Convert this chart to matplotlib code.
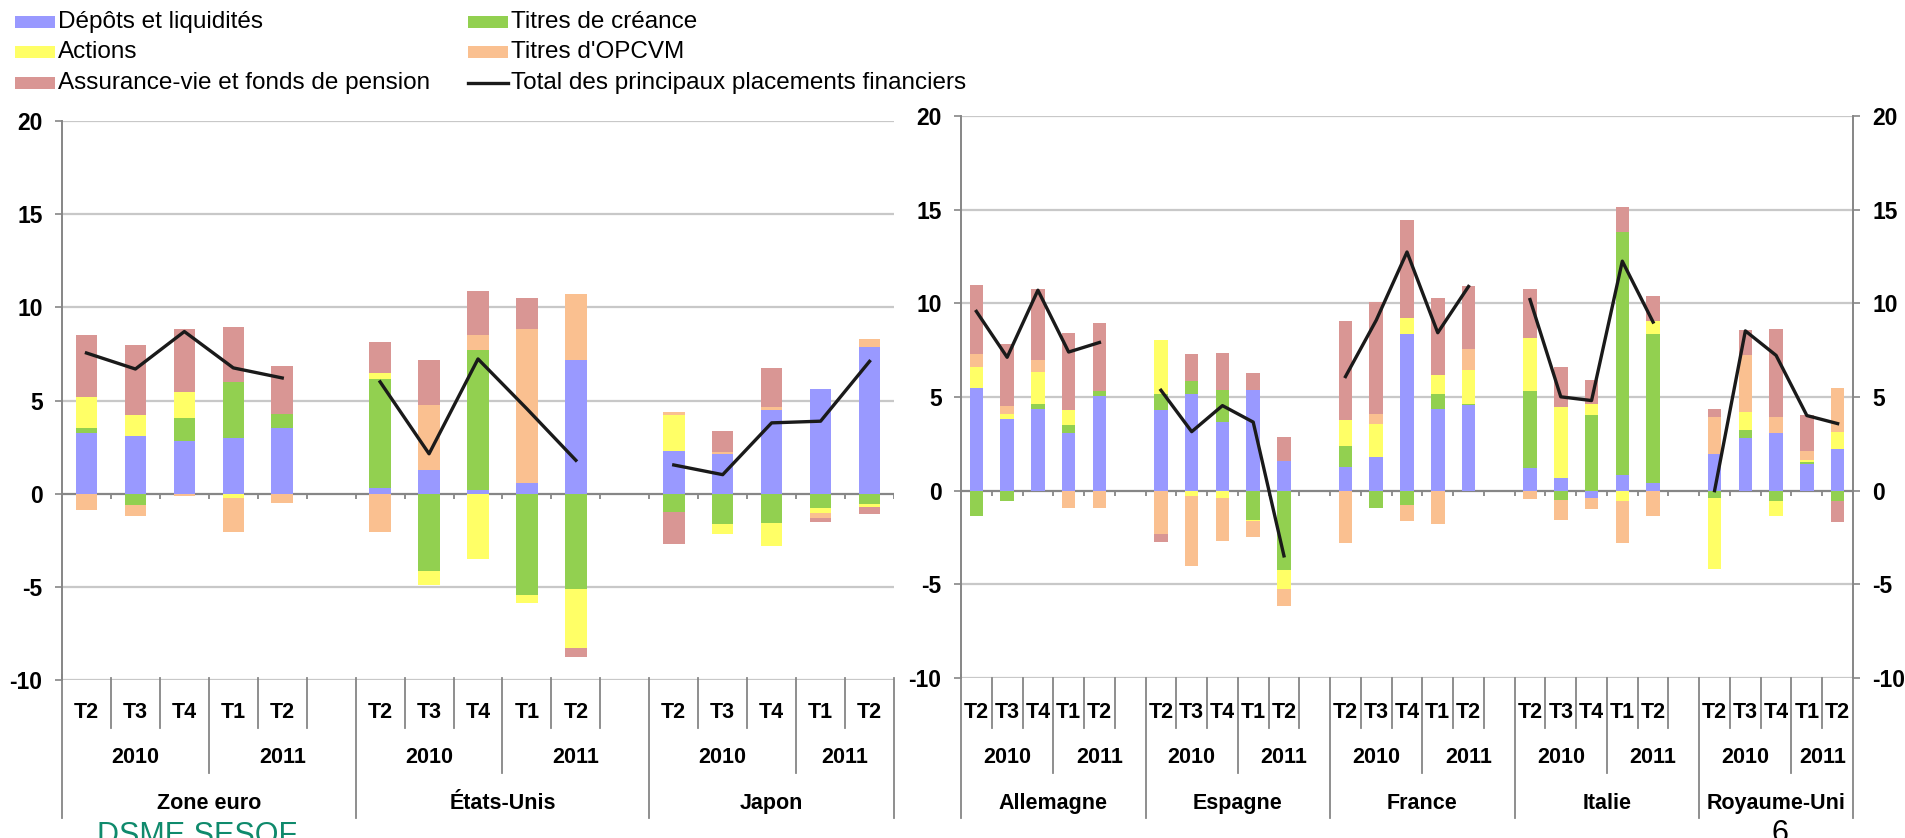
import matplotlib
matplotlib.use('Agg')
import matplotlib.pyplot as plt
from matplotlib.patches import Rectangle
from matplotlib.transforms import blended_transform_factory
import numpy as np

# taux de croissance annuels des placements financiers des ménages (contributions, en points)
quarters = ['T2', 'T3', 'T4', 'T1', 'T2']
years = ['2010', '2011']
countries_left = ['Zone euro', 'États-Unis', 'Japon']
countries_right = ['Allemagne', 'Espagne', 'France', 'Italie', 'Royaume-Uni']

series_names = ['Dépôts et liquidités', 'Titres de créance', 'Actions',
                "Titres d'OPCVM", 'Assurance-vie et fonds de pension']
total_name = 'Total des principaux placements financiers'
colors = ['#9999FF', '#92D050', '#FFFF66', '#FAC090', '#D99694']

depots = {
    'Zone euro': [3.25, 3.09, 2.84, 3.0, 3.54],
    'États-Unis': [0.3, 1.29, 0.2, 0.57, 7.2],
    'Japon': [2.31, 2.14, 4.5, 5.63, 7.89],
    'Allemagne': [5.48, 3.84, 4.36, 3.07, 5.05],
    'Espagne': [4.29, 5.15, 3.66, 5.38, 1.57],
    'France': [1.27, 1.78, 8.34, 4.36, 4.56],
    'Italie': [1.19, 0.65, -0.4, 0.82, 0.39],
    'Royaume-Uni': [1.94, 2.8, 3.07, 1.43, 2.21],
}
creance = {
    'Zone euro': [0.27, -0.6, 1.21, 2.99, 0.76],
    'États-Unis': [5.84, -4.14, 7.53, -5.46, -5.09],
    'Japon': [-1.01, -1.64, -1.55, -0.75, -0.57],
    'Allemagne': [-1.33, -0.55, 0.28, 0.45, 0.27],
    'Espagne': [0.86, 0.68, 1.74, -1.55, -4.21],
    'France': [1.12, -0.9, -0.74, 0.79, 0.08],
    'Italie': [4.13, -0.49, 4.03, 12.98, 7.95],
    'Royaume-Uni': [-0.4, 0.43, -0.57, 0.1, -0.57],
}
actions = {
    'Zone euro': [1.67, 1.13, 1.4, -0.23, 0.0],
    'États-Unis': [0.36, -0.77, -3.52, -0.43, -3.21],
    'Japon': [1.91, -0.5, -1.26, -0.27, -0.16],
    'Allemagne': [1.12, 0.25, 1.7, 0.77, 0.0],
    'Espagne': [2.91, -0.3, -0.4, -0.06, -1.02],
    'France': [1.39, 1.8, 0.86, 1.03, 1.78],
    'Italie': [2.84, 3.81, 0.61, -0.57, 0.7],
    'Royaume-Uni': [-3.79, 0.96, -0.78, 0.09, 0.94],
}
opcvm = {
    'Zone euro': [-0.85, -0.6, -0.1, -1.85, -0.5],
    'États-Unis': [-2.05, 3.46, 0.77, 8.29, 3.5],
    'Japon': [0.14, 0.08, 0.16, -0.27, 0.41],
    'Allemagne': [0.7, 0.45, 0.61, -0.9, -0.9],
    'Espagne': [-2.29, -3.72, -2.31, -0.84, -0.92],
    'France': [-2.8, 0.51, -0.86, -1.76, 1.13],
    'Italie': [-0.47, -1.1, -0.6, -2.23, -1.35],
    'Royaume-Uni': [1.99, 3.03, 0.86, 0.51, 2.31],
}
assurance = {
    'Zone euro': [3.3, 3.76, 3.4, 2.94, 2.53],
    'États-Unis': [1.64, 2.45, 2.36, 1.64, -0.45],
    'Japon': [-1.71, 1.13, 2.09, -0.25, -0.36],
    'Allemagne': [3.7, 3.27, 3.81, 4.14, 3.62],
    'Espagne': [-0.43, 1.45, 1.96, 0.88, 1.29],
    'France': [5.26, 5.97, 5.26, 4.13, 3.37],
    'Italie': [2.6, 2.14, 1.27, 1.33, 1.37],
    'Royaume-Uni': [0.43, 1.37, 4.72, 1.92, -1.1],
}
total = {
    'Zone euro': [7.55, 6.69, 8.7, 6.75, 6.21],
    'États-Unis': [6.0, 2.14, 7.23, 4.55, 1.79],
    'Japon': [1.54, 1.02, 3.8, 3.89, 7.1],
    'Allemagne': [9.57, 7.12, 10.7, 7.4, 7.91],
    'Espagne': [5.36, 3.15, 4.54, 3.66, -3.48],
    'France': [6.09, 9.1, 12.74, 8.43, 10.9],
    'Italie': [10.2, 5.01, 4.81, 12.25, 9.0],
    'Royaume-Uni': [0.0, 8.53, 7.22, 4.01, 3.58],
}
series = [depots, creance, actions, opcvm, assurance]

plt.rcParams['font.family'] = ['Liberation Sans', 'DejaVu Sans']
plt.rcParams['axes.unicode_minus'] = False

W, H = 1906, 838
fig = plt.figure(figsize=(W / 100, H / 100), dpi=100)
GRAY = '#868686'
FS_CAT = 15.5


def fy(py):
    return 1 - py / H


def slots(countries, data):
    # 5 trimestres par pays, un emplacement vide entre deux pays
    out = []
    for i, c in enumerate(countries):
        out += list(data[c])
        if i < len(countries) - 1:
            out.append(np.nan)
    return np.array(out, dtype=float)


def draw_panel(ax, countries, right_labels=False):
    n = len(countries) * 6 - 1
    x = np.arange(n) + 0.5
    pos_base = np.zeros(n)
    neg_base = np.zeros(n)
    for data, col in zip(series, colors):
        v = np.nan_to_num(slots(countries, data))
        pos = np.where(v > 0, v, 0)
        neg = np.where(v < 0, v, 0)
        ax.bar(x, pos, bottom=pos_base, width=0.44, color=col, linewidth=0, zorder=3)
        ax.bar(x, neg, bottom=neg_base, width=0.44, color=col, linewidth=0, zorder=3)
        pos_base += pos
        neg_base += neg
    ax.plot(x, slots(countries, total), color='#1a1a1a', lw=2.4, zorder=4)

    ax.set_xlim(0, n)
    ax.set_ylim(-10, 20)
    ax.set_yticks(range(-10, 21, 5))
    ax.set_xticks([])
    for y in range(-10, 21, 5):
        if y != 0:
            ax.axhline(y, color='#c8c8c8', lw=1.6, zorder=1)
    ax.axhline(0, color=GRAY, lw=1.6, zorder=2)
    ax.vlines(np.arange(1, n + 1), 0, -0.28, color=GRAY, lw=1.3, zorder=2)
    for s in ['top', 'bottom']:
        ax.spines[s].set_visible(False)
    ax.spines['left'].set_color(GRAY)
    ax.spines['left'].set_linewidth(1.4)
    ax.spines['right'].set_visible(right_labels)
    ax.spines['right'].set_color(GRAY)
    ax.spines['right'].set_linewidth(1.4)
    ax.tick_params(axis='y', length=5, width=1.2, color=GRAY, pad=9,
                   labelsize=16.5, right=right_labels, labelright=right_labels)
    for t in ax.get_yticklabels():
        t.set_fontweight('bold')

    # axe des catégories sur trois niveaux
    tr = blended_transform_factory(ax.transData, fig.transFigure)
    kw = dict(transform=tr, color=GRAY, lw=1.3, clip_on=False)
    tkw = dict(transform=tr, ha='center', va='center', fontsize=FS_CAT, fontweight='bold')
    ax.plot([0, 0], [fy(675), fy(818)], **kw)
    for i, c in enumerate(countries):
        s0 = i * 6
        last = i == len(countries) - 1
        width = 5 if last else 6
        for k, q in enumerate(quarters):
            ax.text(s0 + k + 0.5, fy(712), q, **tkw)
        for k in range(1, width + 1):
            if k == 3:
                ax.plot([s0 + k] * 2, [fy(678), fy(773)], **kw)
            elif k == width:
                ax.plot([s0 + k] * 2, [fy(678), fy(818)], **kw)
            else:
                ax.plot([s0 + k] * 2, [fy(678), fy(728)], **kw)
        ax.text(s0 + 1.5, fy(757), years[0], **tkw)
        ax.text(s0 + 3 + (width - 3) / 2, fy(757), years[1], **tkw)
        ax.text(s0 + width / 2, fy(803), c, **tkw)


ax1 = fig.add_axes([62 / W, fy(680), (894 - 62) / W, (680 - 121) / H])
draw_panel(ax1, countries_left)

ax2 = fig.add_axes([961 / W, fy(678), (1853 - 961) / W, (678 - 116) / H])
draw_panel(ax2, countries_right, right_labels=True)

# légende
leg_items = [(series_names[0], colors[0], 15, 22), (series_names[1], colors[1], 468, 22),
             (series_names[2], colors[2], 15, 52), (series_names[3], colors[3], 468, 52),
             (series_names[4], colors[4], 15, 83), (total_name, None, 468, 83)]
for name, col, px, py in leg_items:
    if col is None:
        fig.add_artist(plt.Line2D([px / W, (px + 40) / W], [fy(py), fy(py)],
                                  transform=fig.transFigure, color='#1a1a1a', lw=2.4))
    else:
        fig.add_artist(Rectangle((px / W, fy(py + 6)), 40 / W, 12 / H,
                                 transform=fig.transFigure, color=col, lw=0))
    fig.text((px + 43) / W, fy(py), name, ha='left', va='center', fontsize=17.5)

# pied de page (coupé au bord, comme sur l'original)
fig.text(97 / W, fy(844), 'DSME SESOF', ha='left', va='baseline',
         fontsize=22, color='#0f8a6c')
fig.text(1780 / W, fy(842), '6', ha='center', va='baseline', fontsize=22, color='black')

fig.savefig('out.png', dpi=100)
